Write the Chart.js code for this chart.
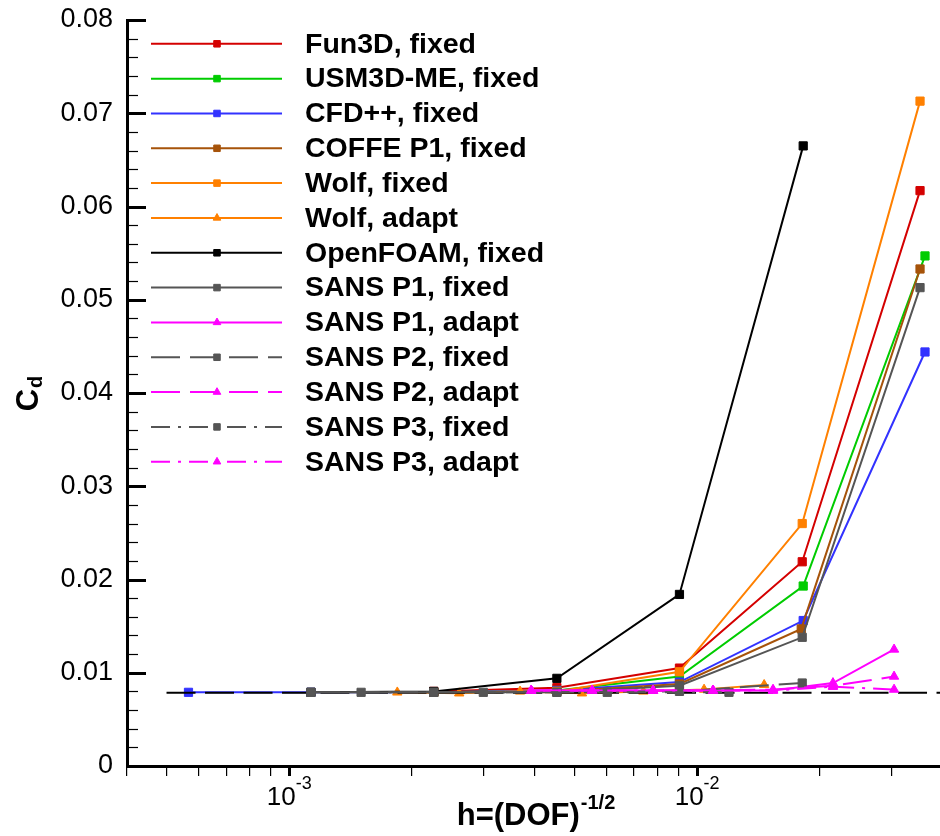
<!DOCTYPE html>
<html>
<head>
<meta charset="utf-8">
<script src="https://cdn.jsdelivr.net/npm/chart.js"></script>
<style>
  html, body { margin: 0; padding: 0; background: #fff; }
  #wrap { width: 940px; height: 836px; }
</style>
</head>
<body>
<div id="wrap"><canvas id="cd-chart" width="940" height="836"></canvas></div>
<script>
const FONT = "'Liberation Sans', Arial, Helvetica, sans-serif";

// h = (DOF)^-1/2 and Cd, one pair of arrays per series
const fun3dH = [0.00226, 0.00453, 0.00905, 0.0181, 0.0352];
const fun3dCd = [0.0080, 0.0084, 0.0105, 0.0219, 0.0617];

const usm3dH = [0.00226, 0.00453, 0.00905, 0.0182, 0.0362];
const usm3dCd = [0.0079, 0.0081, 0.0096, 0.0193, 0.0547];

const cfdH = [0.000566, 0.00113, 0.00226, 0.00453, 0.00905, 0.0182, 0.0362];
const cfdCd = [0.0079, 0.0079, 0.0079, 0.0081, 0.0090, 0.0156, 0.0444];

const coffeH = [0.00226, 0.00453, 0.00905, 0.0180, 0.0352];
const coffeCd = [0.0079, 0.0080, 0.0088, 0.0147, 0.0533];

const wolfFixedH = [0.00226, 0.00453, 0.00905, 0.0181, 0.0352];
const wolfFixedCd = [0.0079, 0.0080, 0.0101, 0.0260, 0.0713];

const wolfAdaptH = [0.00184, 0.00261, 0.00368, 0.00522, 0.00738, 0.0104, 0.0146];
const wolfAdaptCd = [0.0079, 0.0078, 0.0080, 0.0078, 0.0080, 0.0082, 0.0087];

const openfoamH = [0.00113, 0.00226, 0.00453, 0.00905, 0.0182];
const openfoamCd = [0.0079, 0.0080, 0.0094, 0.0184, 0.0665];

const sansP1FixedH = [0.00113, 0.00226, 0.00453, 0.00905, 0.0181, 0.0352];
const sansP1FixedCd = [0.0079, 0.0079, 0.0079, 0.0086, 0.0138, 0.0513];

const sansP2FixedH = [0.00113, 0.00226, 0.00453, 0.00905, 0.0181];
const sansP2FixedCd = [0.0079, 0.0079, 0.0079, 0.0080, 0.0089];

const sansP3FixedH = [0.00150, 0.00299, 0.00602, 0.01197];
const sansP3FixedCd = [0.0079, 0.0079, 0.0079, 0.0079];

const sansAdaptH = [0.00392, 0.00553, 0.0078, 0.01094, 0.01535, 0.02153, 0.0304];
const sansP1AdaptCd = [0.0081, 0.0081, 0.0081, 0.0081, 0.0081, 0.0089, 0.0125];
const sansP2AdaptCd = [0.0081, 0.0081, 0.0081, 0.0081, 0.0082, 0.0086, 0.0096];
const sansP3AdaptCd = [0.0081, 0.0081, 0.0081, 0.0081, 0.0081, 0.0085, 0.0082];

// converged reference value (dashed black line, not in legend)
const refH = [0.0005, 0.05];
const refCd = [0.00786, 0.00786];

// axis ticks
const xTickVals = [0.0004, 0.0005, 0.0006, 0.0007, 0.0008, 0.0009,
  0.001, 0.002, 0.003, 0.004, 0.005, 0.006, 0.007, 0.008, 0.009,
  0.01, 0.02, 0.03];
const xMajorVals = [0.001, 0.01];
const yTickVals = [0, 0.01, 0.02, 0.03, 0.04, 0.05, 0.06, 0.07, 0.08];

const RED = '#d40000', GREEN = '#00cc00', BLUE = '#3232ff', BROWN = '#a6530a';
const ORANGE = '#ff8000', BLACK = '#000000', GRAY = '#555555', MAGENTA = '#ff00ff';
const DASH = [29, 10];
const DASHDOT = [19, 8, 3, 8];

function series(label, h, cd, color, marker, dash, order) {
  return {
    label,
    data: h.map((v, i) => ({ x: v, y: cd[i] })),
    borderColor: color,
    backgroundColor: color,
    pointBackgroundColor: color,
    pointBorderColor: color,
    borderWidth: 2,
    borderDash: dash || [],
    pointStyle: marker,
    pointRadius: marker === 'triangle' ? 5.4 : 5.8,
    pointBorderWidth: 1,
    tension: 0,
    order
  };
}

const datasets = [
  series('Fun3D, fixed', fun3dH, fun3dCd, RED, 'rect', null, 20),
  series('USM3D-ME, fixed', usm3dH, usm3dCd, GREEN, 'rect', null, 19),
  series('CFD++, fixed', cfdH, cfdCd, BLUE, 'rect', null, 18),
  series('COFFE P1, fixed', coffeH, coffeCd, BROWN, 'rect', null, 17),
  series('Wolf, fixed', wolfFixedH, wolfFixedCd, ORANGE, 'rect', null, 16),
  series('Wolf, adapt', wolfAdaptH, wolfAdaptCd, ORANGE, 'triangle', null, 15),
  series('OpenFOAM, fixed', openfoamH, openfoamCd, BLACK, 'rect', null, 14),
  series('SANS P1, fixed', sansP1FixedH, sansP1FixedCd, GRAY, 'rect', null, 13),
  series('SANS P1, adapt', sansAdaptH, sansP1AdaptCd, MAGENTA, 'triangle', null, 12),
  series('SANS P2, fixed', sansP2FixedH, sansP2FixedCd, GRAY, 'rect', DASH, 11),
  series('SANS P2, adapt', sansAdaptH, sansP2AdaptCd, MAGENTA, 'triangle', DASH, 10),
  series('SANS P3, fixed', sansP3FixedH, sansP3FixedCd, GRAY, 'rect', DASHDOT, 9),
  series('SANS P3, adapt', sansAdaptH, sansP3AdaptCd, MAGENTA, 'triangle', DASHDOT, 8),
];

const refLine = {
  label: 'reference',
  data: refH.map((v, i) => ({ x: v, y: refCd[i] })),
  borderColor: BLACK,
  borderWidth: 2,
  borderDash: [29, 9.5],
  pointRadius: 0,
  order: 13.5,
  skipLegend: true
};

// y ticks point into the plot, x ticks point out (drawn by the grid)
const inwardTicks = {
  id: 'inwardTicks',
  afterDraw(chart) {
    const { ctx, chartArea } = chart;
    const y = chart.scales.y;
    ctx.save();
    ctx.strokeStyle = '#000';
    for (let i = 0; i < yTickVals.length; i++) {
      const py = Math.round(y.getPixelForValue(yTickVals[i])) + 0.5;
      ctx.lineWidth = 3;
      ctx.beginPath();
      ctx.moveTo(chartArea.left, py);
      ctx.lineTo(chartArea.left + 19, py);
      ctx.stroke();
      if (i === yTickVals.length - 1) break;
      const step = (yTickVals[i + 1] - yTickVals[i]) / 5;
      ctx.lineWidth = 1.2;
      for (let k = 1; k < 5; k++) {
        const pm = Math.round(y.getPixelForValue(yTickVals[i] + k * step)) + 0.5;
        ctx.beginPath();
        ctx.moveTo(chartArea.left, pm);
        ctx.lineTo(chartArea.left + 11, pm);
        ctx.stroke();
      }
    }
    ctx.restore();
  }
};

// 10^n labels and the axis titles need superscripts / subscripts
const axisText = {
  id: 'axisText',
  afterDraw(chart) {
    const { ctx, chartArea } = chart;
    const x = chart.scales.x;
    ctx.save();
    ctx.fillStyle = '#000';
    ctx.textBaseline = 'alphabetic';
    ctx.textAlign = 'left';

    xMajorVals.forEach(v => {
      const px = x.getPixelForValue(v);
      const exp = String(Math.round(Math.log10(v)));
      ctx.font = `26px ${FONT}`;
      const w1 = ctx.measureText('10').width;
      ctx.font = `18px ${FONT}`;
      const w2 = ctx.measureText(exp).width;
      const left = px - (w1 + w2) / 2;
      ctx.font = `26px ${FONT}`;
      ctx.fillText('10', left, 805);
      ctx.font = `18px ${FONT}`;
      ctx.fillText(exp, left + w1, 789);
    });

    // x title: h=(DOF)^-1/2
    ctx.font = `bold 31px ${FONT}`;
    const t1 = 'h=(DOF)';
    const tw1 = ctx.measureText(t1).width;
    ctx.font = `bold 20px ${FONT}`;
    const t2 = '-1/2';
    const tw2 = ctx.measureText(t2).width;
    const cx = (chartArea.left + chartArea.right) / 2 + 2;
    const tl = cx - (tw1 + tw2) / 2;
    ctx.font = `bold 31px ${FONT}`;
    ctx.fillText(t1, tl, 825);
    ctx.font = `bold 20px ${FONT}`;
    ctx.fillText(t2, tl + tw1 + 1, 809);

    // y title: C_d, rotated
    ctx.translate(38, 394);
    ctx.rotate(-Math.PI / 2);
    ctx.font = `bold 31px ${FONT}`;
    const cw = ctx.measureText('C').width;
    ctx.font = `bold 20px ${FONT}`;
    const dw = ctx.measureText('d').width;
    const sx = -(cw + dw) / 2;
    ctx.font = `bold 31px ${FONT}`;
    ctx.fillText('C', sx, 0);
    ctx.font = `bold 20px ${FONT}`;
    ctx.fillText('d', sx + cw + 1, 4);
    ctx.restore();
  }
};

// legend inside the plot: line sample with marker in the middle
const insideLegend = {
  id: 'insideLegend',
  afterDraw(chart) {
    const ctx = chart.ctx;
    const items = chart.data.datasets.filter(d => !d.skipLegend);
    ctx.save();
    items.forEach((ds, i) => {
      const y = 43.8 + i * 34.83;
      ctx.strokeStyle = ds.borderColor;
      ctx.lineWidth = 2;
      ctx.setLineDash(ds.borderDash);
      ctx.beginPath();
      ctx.moveTo(151, y);
      ctx.lineTo(282, y);
      ctx.stroke();
      ctx.setLineDash([]);
      ctx.fillStyle = ds.pointBackgroundColor;
      ctx.strokeStyle = ds.pointBorderColor;
      ctx.lineWidth = 1;
      Chart.helpers.drawPoint(ctx, {
        pointStyle: ds.pointStyle,
        rotation: 0,
        radius: ds.pointStyle === 'triangle' ? 4.4 : 4.6,
        borderWidth: 1
      }, 217, y);
      ctx.fillStyle = '#000';
      ctx.font = `bold 28.5px ${FONT}`;
      ctx.textBaseline = 'middle';
      ctx.textAlign = 'left';
      ctx.fillText(ds.label, 305, y + 1);
    });
    ctx.restore();
  }
};

new Chart(document.getElementById('cd-chart'), {
  type: 'line',
  data: { datasets: [...datasets, refLine] },
  options: {
    responsive: false,
    animation: false,
    events: [],
    layout: { autoPadding: false, padding: { top: 20, right: 0, bottom: 0, left: 0 } },
    plugins: {
      legend: { display: false },
      tooltip: { enabled: false }
    },
    scales: {
      x: {
        type: 'logarithmic',
        min: 0.0004,
        max: 0.0394,
        afterBuildTicks: s => { s.ticks = xTickVals.map(v => ({ value: v })); },
        afterFit: s => { s.height = 70; s.paddingLeft = 0; s.paddingRight = 0; },
        ticks: { autoSkip: false, maxRotation: 0, callback: () => '' },
        grid: {
          drawOnChartArea: false,
          drawTicks: true,
          tickLength: 10,
          color: '#000',
          lineWidth: c => (c.tick && xMajorVals.includes(c.tick.value)) ? 3 : 1.2
        },
        border: { display: true, width: 3, color: '#000' }
      },
      y: {
        type: 'linear',
        min: 0,
        max: 0.08,
        afterBuildTicks: s => { s.ticks = yTickVals.map(v => ({ value: v })); },
        afterFit: s => { s.width = 127; s.paddingTop = 0; s.paddingBottom = 0; },
        ticks: {
          padding: 14,
          color: '#000',
          font: { family: FONT, size: 27 },
          callback: v => v === 0 ? '0' : v.toFixed(2)
        },
        grid: { drawOnChartArea: false, drawTicks: false },
        border: { display: true, width: 3, color: '#000' }
      }
    }
  },
  plugins: [inwardTicks, axisText, insideLegend]
});
</script>
</body>
</html>
